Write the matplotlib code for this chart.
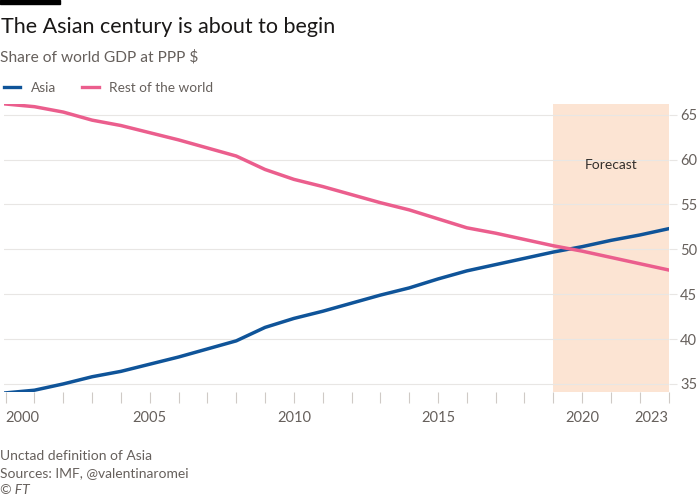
import matplotlib
matplotlib.use("Agg")
import matplotlib.pyplot as plt
from matplotlib.lines import Line2D
from matplotlib.patches import Rectangle

plt.rcParams["font.family"] = ["Lato", "DejaVu Sans"]

years = list(range(2000, 2024))
asia = [34.0, 34.3, 35.0, 35.8, 36.4, 37.2, 38.0, 38.9, 39.8, 41.3, 42.3, 43.1,
        44.0, 44.9, 45.7, 46.7, 47.6, 48.3, 49.0, 49.7, 50.3, 51.0, 51.6, 52.3]
rest = [66.2, 65.9, 65.3, 64.4, 63.8, 63.0, 62.2, 61.3, 60.4, 58.9, 57.8, 57.0,
        56.1, 55.2, 54.4, 53.4, 52.4, 51.8, 51.1, 50.4, 49.8, 49.1, 48.4, 47.7]
y_ticks = [35, 40, 45, 50, 55, 60, 65]
x_labels = {2000: "2000", 2005: "2005", 2010: "2010", 2015: "2015", 2020: "2020", 2023: "2023"}
forecast_start, forecast_end = 2019, 2023

blue = "#0f5499"
pink = "#eb5e8d"
grey = "#66605c"
grid = "#e8e6e4"

fig = plt.figure(figsize=(7, 5), dpi=100)
ax = fig.add_axes([0.006, 0.216, 0.95, 0.576])

ax.axvspan(forecast_start, forecast_end, color="#fce4d3", zorder=0, lw=0)
ax.text((forecast_start + forecast_end) / 2, 59.4, "Forecast", ha="center", va="center",
        fontsize=10, color="#33302e")

ax.plot(years, asia, color=blue, lw=2.5, zorder=3)
ax.plot(years, rest, color=pink, lw=2.5, zorder=3)

ax.set_xlim(1999.95, 2023.02)
ax.set_ylim(34.1, 66.2)

ax.yaxis.tick_right()
ax.set_yticks(y_ticks)
ax.tick_params(axis="y", length=6, color=grid, labelcolor=grey, labelsize=10.5, pad=2)
ax.grid(axis="y", color=grid, lw=0.8, zorder=1)

ax.set_xticks(years)
ax.set_xticklabels([x_labels.get(y, "") for y in years])
ax.tick_params(axis="x", length=8, color="#cfcac6", labelcolor=grey, labelsize=10.5, pad=6)
labels = ax.get_xticklabels()
labels[0].set_ha("left")
labels[-1].set_ha("right")

for s in ax.spines.values():
    s.set_visible(False)

# top bar, title and subtitle
fig.add_artist(Rectangle((0, 0.992), 0.086, 0.008, transform=fig.transFigure, color="black"))
fig.text(0.002, 0.946, "The Asian century is about to begin", fontsize=15.5, color="#1a1817", va="center")
fig.text(0.0, 0.885, "Share of world GDP at PPP $", fontsize=11.2, color=grey, va="center")

# legend
handles = [Line2D([], [], color=blue, lw=2.4), Line2D([], [], color=pink, lw=2.4)]
fig.legend(handles, ["Asia", "Rest of the world"], loc="center left",
           bbox_to_anchor=(-0.012, 0.825), ncol=2, frameon=False, fontsize=9.8,
           handlelength=1.2, handletextpad=0.8, columnspacing=1.9, labelcolor=grey)

# footer
fig.text(0.0, 0.088, "Unctad definition of Asia", fontsize=10, color=grey, va="center")
fig.text(0.0, 0.054, "Sources: IMF, @valentinaromei", fontsize=10, color=grey, va="center")
fig.text(0.0, 0.020, "© FT", fontsize=10, color=grey, va="center", style="italic")

fig.savefig("out.png", dpi=100, facecolor="white")
